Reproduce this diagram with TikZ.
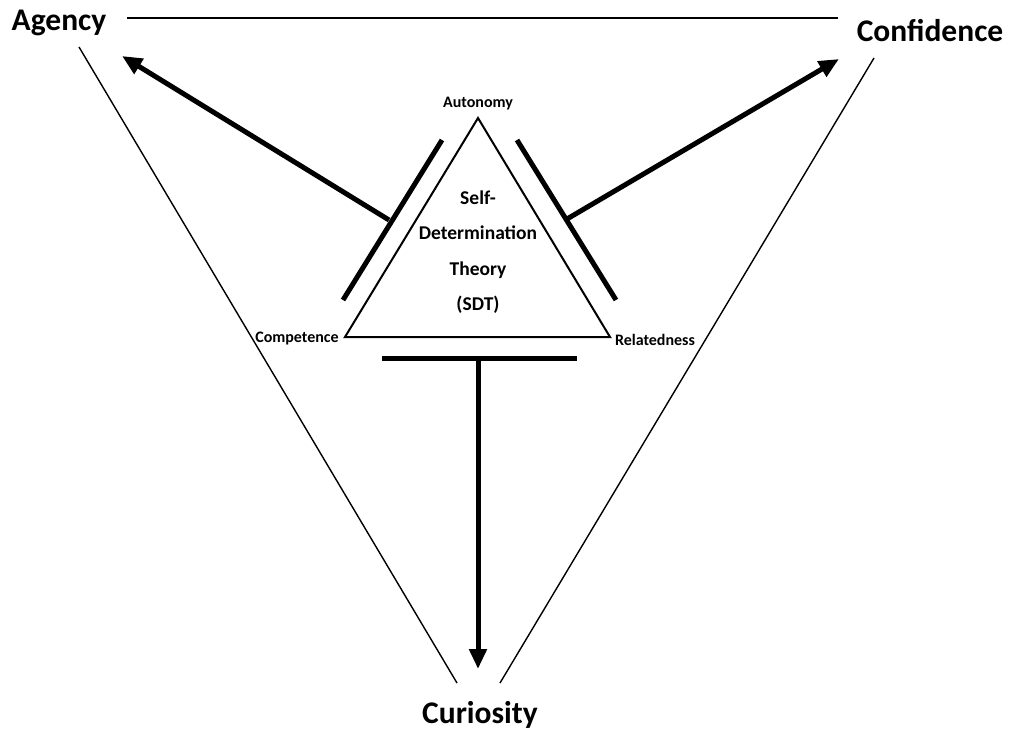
\documentclass[tikz,border=0pt]{standalone}
\usepackage{fontspec}
\setmainfont{Carlito}
\usetikzlibrary{arrows.meta}
\begin{document}
\begin{tikzpicture}[x=1pt,y=-1pt,
  big/.style={font=\fontsize{31.5}{33}\selectfont\bfseries, inner sep=0pt},
  small/.style={font=\fontsize{16}{17}\selectfont\bfseries, inner sep=0pt},
  thin/.style={line width=1.4pt},
  bar/.style={line width=5pt},
  bigarrow/.style={line width=5pt, -{Triangle[length=20pt,width=17pt]}}]
\useasboundingbox (0,0) rectangle (1015,731);
% outer labels
\node[big] (agency) at (59,23) {Agency};
\node[big] (conf) at (930,31) {Confidence};
\node[big] (cur) at (480,715) {Curiosity};
% outer frame lines
\coordinate (tl) at (127,18);
\coordinate (tr) at (838,18);
\coordinate (l1) at (79,47);
\coordinate (l2) at (457,683);
\coordinate (r1) at (874,58);
\coordinate (r2) at (500,683);
\draw[thin] (tl) -- (tr);
\draw[thin] (l1) -- (l2);
\draw[thin] (r1) -- (r2);
% SDT triangle
\coordinate (apex) at (478,118);
\coordinate (bl) at (345,337);
\coordinate (br) at (610,337);
\draw[line width=2pt, line join=miter] (apex) -- (bl) -- (br) -- cycle;
\node[small] (auto) at (478,104) {Autonomy};
\node[small] (comp) at (297,339) {Competence};
\node[small] (rel) at (655,340) {Relatedness};
\node[font=\fontsize{19.5}{35.5}\selectfont\bfseries, align=center, inner sep=0pt] (sdt) at (478,252)
  {Self-\\Determination\\Theory\\(SDT)};
% bars
\coordinate (lb1) at (442,140);
\coordinate (lb2) at (343,300);
\coordinate (rb1) at (517,140);
\coordinate (rb2) at (616,300);
\coordinate (bb1) at (382,358);
\coordinate (bb2) at (577,358);
\draw[bar] (lb1) -- (lb2);
\draw[bar] (rb1) -- (rb2);
\draw[bar] (bb1) -- (bb2);
% arrows
\coordinate (la) at (389,220);
\coordinate (ra) at (567,219);
\coordinate (ba) at (478,358);
\coordinate (agtip) at (122,56);
\coordinate (cftip) at (839,59);
\coordinate (cutip) at (478,669);
\draw[bigarrow] (la) -- (agtip);
\draw[bigarrow] (ra) -- (cftip);
\draw[bigarrow] (ba) -- (cutip);
\end{tikzpicture}
\end{document}
